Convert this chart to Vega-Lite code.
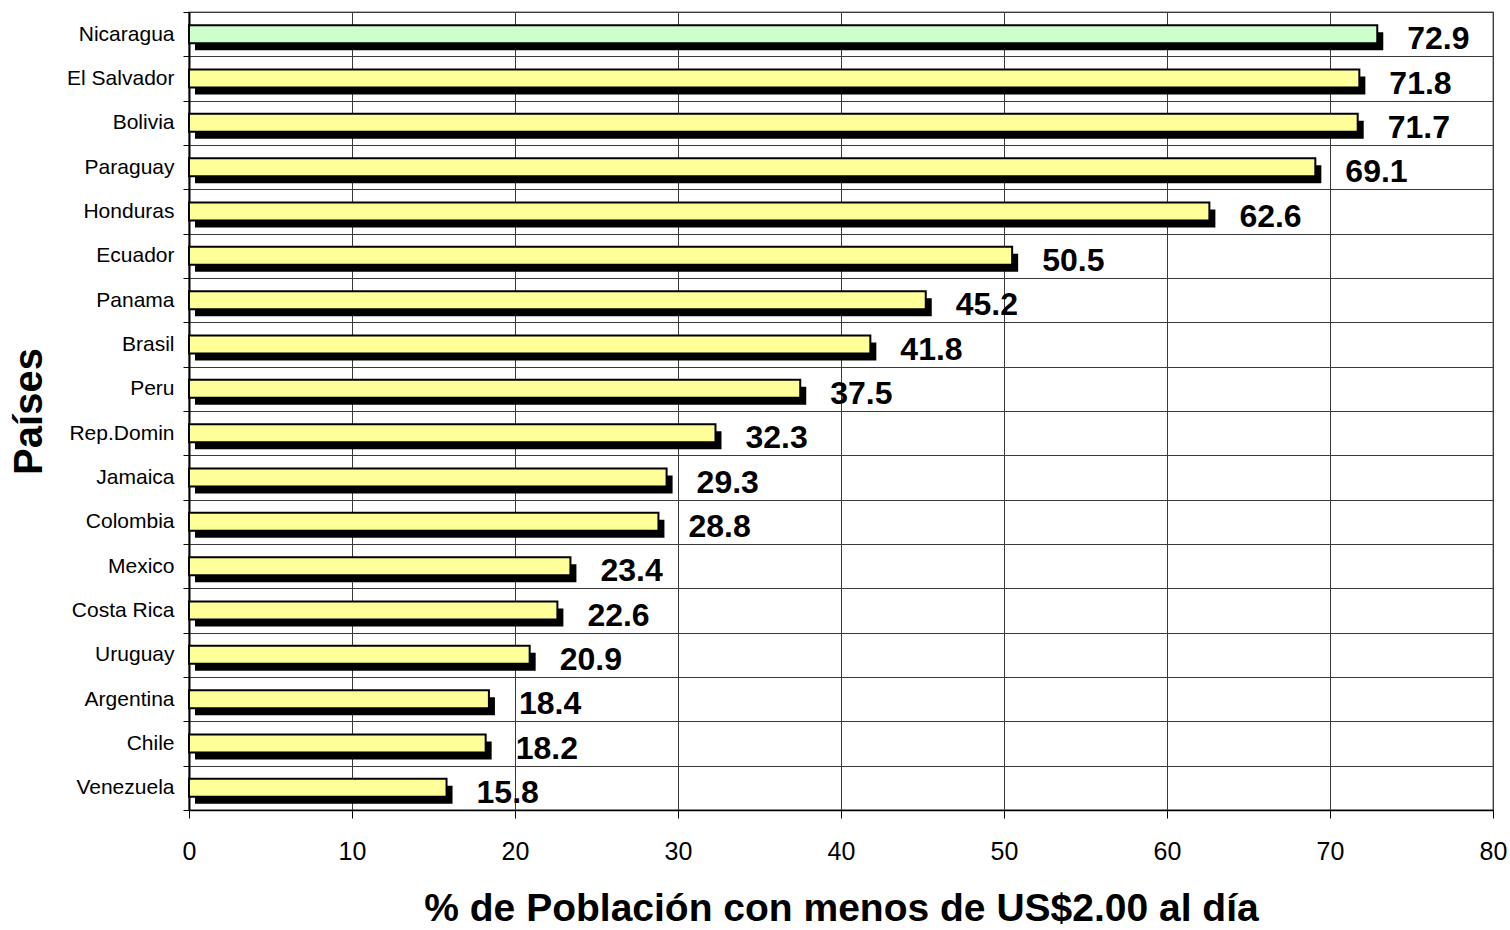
{
  "$schema": "https://vega.github.io/schema/vega-lite/v6.json",
  "width": 1304,
  "height": 798,
  "autosize": {"type": "none"},
  "padding": {"left": 189, "top": 12, "right": 17, "bottom": 120},
  "background": "white",
  "config": {
    "font": "Liberation Sans",
    "view": {"stroke": "#999999", "strokeWidth": 1.5}
  },
  "data": {
    "values": [
      {"pais": "Nicaragua", "valor": 72.9},
      {"pais": "El Salvador", "valor": 71.8},
      {"pais": "Bolivia", "valor": 71.7},
      {"pais": "Paraguay", "valor": 69.1},
      {"pais": "Honduras", "valor": 62.6},
      {"pais": "Ecuador", "valor": 50.5},
      {"pais": "Panama", "valor": 45.2},
      {"pais": "Brasil", "valor": 41.8},
      {"pais": "Peru", "valor": 37.5},
      {"pais": "Rep.Domin", "valor": 32.3},
      {"pais": "Jamaica", "valor": 29.3},
      {"pais": "Colombia", "valor": 28.8},
      {"pais": "Mexico", "valor": 23.4},
      {"pais": "Costa Rica", "valor": 22.6},
      {"pais": "Uruguay", "valor": 20.9},
      {"pais": "Argentina", "valor": 18.4},
      {"pais": "Chile", "valor": 18.2},
      {"pais": "Venezuela", "valor": 15.8}
    ]
  },
  "encoding": {
    "y": {
      "field": "pais",
      "type": "nominal",
      "sort": {"field": "valor", "order": "descending"},
      "scale": {"paddingInner": 0, "paddingOuter": 0},
      "axis": {
        "title": "Países",
        "titleFontSize": 40,
        "titleFontWeight": "bold",
        "titleColor": "black",
        "titlePadding": 17,
        "labelFontSize": 21,
        "labelColor": "black",
        "labelPadding": 9,
        "labelLimit": 300,
        "tickBand": "extent",
        "tickSize": 6,
        "tickColor": "black",
        "grid": true,
        "gridColor": "#3a3a3a",
        "gridWidth": 1,
        "domainColor": "black",
        "domainWidth": 2
      }
    }
  },
  "layer": [
    {
      "mark": {"type": "bar", "color": "black", "size": 18, "xOffset": 6, "x2Offset": 6, "yOffset": 7},
      "encoding": {
        "x": {
          "field": "valor",
          "type": "quantitative",
          "scale": {"domain": [0, 80], "nice": false},
          "axis": {
            "values": [0, 10, 20, 30, 40, 50, 60, 70, 80],
            "title": "% de Población con menos de US$2.00 al día",
            "titleFontSize": 39,
            "titleFontWeight": "bold",
            "titleColor": "black",
            "titlePadding": 25,
            "labelFontSize": 25,
            "labelColor": "black",
            "labelPadding": 21,
            "labelFlush": false,
            "labelOverlap": false,
            "tickSize": 8,
            "tickColor": "black",
            "grid": true,
            "gridColor": "#3a3a3a",
            "gridWidth": 1,
            "domainColor": "black",
            "domainWidth": 1.5
          }
        }
      }
    },
    {
      "mark": {"type": "bar", "size": 18, "stroke": "black", "strokeWidth": 2},
      "encoding": {
        "x": {"field": "valor", "type": "quantitative"},
        "color": {
          "condition": {"test": "datum.pais === 'Nicaragua'", "value": "#CCFFCC"},
          "value": "#FFFF99"
        }
      }
    },
    {
      "mark": {"type": "text", "align": "left", "baseline": "middle", "dx": 30, "dy": 5, "fontSize": 32, "fontWeight": "bold", "color": "black"},
      "encoding": {
        "x": {"field": "valor", "type": "quantitative"},
        "text": {"field": "valor", "type": "quantitative", "format": ".1f"}
      }
    }
  ]
}
